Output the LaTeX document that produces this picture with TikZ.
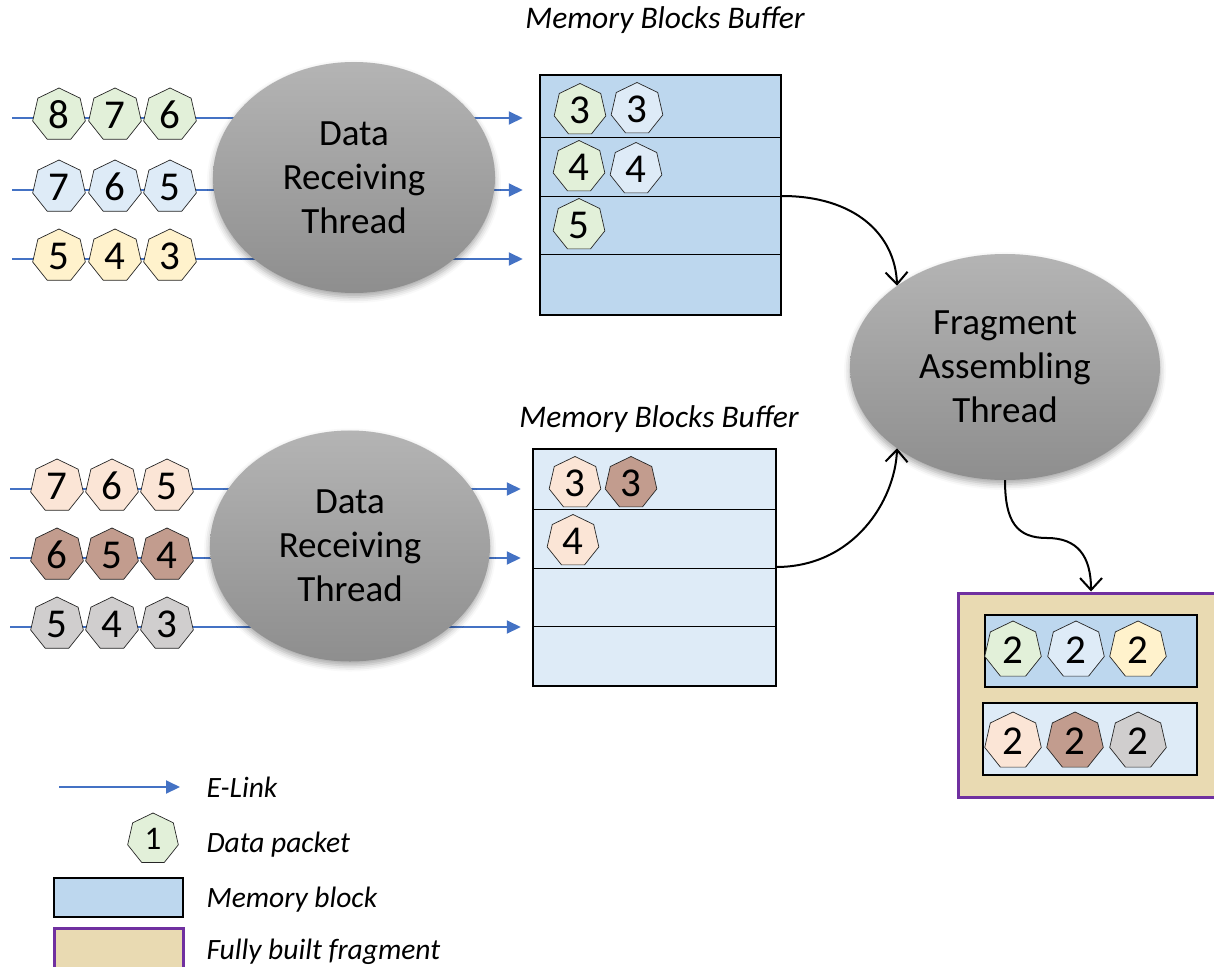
\documentclass[tikz,border=0pt]{standalone}
\usepackage{fontspec}
\setmainfont{Carlito}
\usetikzlibrary{shapes.geometric,arrows.meta,shadows.blur,calc}

\definecolor{linkblue}{HTML}{4472C4}
\definecolor{blockdark}{HTML}{BDD7EE}
\definecolor{blocklight}{HTML}{DEEBF7}
\definecolor{pgreen}{HTML}{E2F0D9}
\definecolor{pblue}{HTML}{DEEBF7}
\definecolor{pyellow}{HTML}{FFF2CC}
\definecolor{ppeach}{HTML}{FBE5D6}
\definecolor{pbrown}{HTML}{C29C8E}
\definecolor{pgray}{HTML}{D0CECE}
\definecolor{fragtan}{HTML}{E9DAB2}
\definecolor{fragpurple}{HTML}{7030A0}
\definecolor{threadtop}{RGB}{180,180,180}
\definecolor{threadbot}{RGB}{142,142,142}

\begin{document}
\begin{tikzpicture}[x=1pt,y=-1pt,
  pkt/.style={regular polygon, regular polygon sides=7, draw=black!85,
    line width=0.7pt, inner sep=0pt, minimum size=54pt, fill=#1,
    font=\fontsize{41}{43}\selectfont},
  bpkt/.style={pkt=#1, minimum size=53pt},
  fpkt/.style={pkt=#1, minimum size=58pt},
  elink/.style={linkblue, line width=2pt, -{Triangle[length=14pt,width=13pt]}},
  flow/.style={black, line width=2pt, -{Straight Barb[length=12pt,width=22pt,line width=2pt]}},
  thread/.style={ellipse, inner sep=0pt, top color=threadtop, bottom color=threadbot,
    align=center, font=\fontsize{37}{44}\selectfont,
    blur shadow={shadow xshift=0pt, shadow yshift=-4pt, shadow blur radius=6pt, shadow opacity=35}},
  buffer/.style={draw=black, line width=2.5pt, inner sep=0pt},
  rowline/.style={black, line width=0.9pt},
  title/.style={font=\fontsize{31.5}{33}\selectfont\itshape, anchor=base},
  legtext/.style={font=\fontsize{29.5}{32}\selectfont\itshape, anchor=base west}
]
\useasboundingbox (0,0) rectangle (1214,966);
\clip (0,0) rectangle (1214,966);

% ---------- memory block buffers ----------
\node[buffer, fill=blockdark, minimum width=241pt, minimum height=240pt] (bufA) at (660.5,195) {};
\draw[rowline] (540,137) -- (781,137);
\draw[rowline] (540,196) -- (781,196);
\draw[rowline] (540,254) -- (781,254);
\node[title] (titleA) at (665,29) {Memory Blocks Buffer};

\node[buffer, fill=blocklight, minimum width=243pt, minimum height=237pt] (bufB) at (654.5,567.5) {};
\draw[rowline] (533,509) -- (776,509);
\draw[rowline] (533,568) -- (776,568);
\draw[rowline] (533,626) -- (776,626);
\node[title] (titleB) at (659,427) {Memory Blocks Buffer};

% ---------- E-Link inputs ----------
\coordinate (inA1) at (12,118);
\coordinate (inA2) at (12,190);
\coordinate (inA3) at (12,259);
\coordinate (inB1) at (10,489);
\coordinate (inB2) at (10,558);
\coordinate (inB3) at (10,627);
\foreach \c in {inA1,inA2,inA3}
  \draw[elink, shorten >=16pt] (\c) -- (\c -| bufA.west);
\foreach \c in {inB1,inB2,inB3}
  \draw[elink, shorten >=11pt] (\c) -- (\c -| bufB.west);

% ---------- receiving threads ----------
\node[thread, minimum width=282pt, minimum height=231pt] (drtA) at (354,177.5) {Data\\Receiving\\Thread};
\node[thread, minimum width=280pt, minimum height=231pt] (drtB) at (350,546) {Data\\Receiving\\Thread};

% ---------- packets on the links ----------
\node[pkt=pgreen] (a18) at (59,115) {8};
\node[pkt=pgreen] (a17) at (115,115) {7};
\node[pkt=pgreen] (a16) at (170,115) {6};
\node[pkt=pblue] (a27) at (59,187) {7};
\node[pkt=pblue] (a26) at (115,187) {6};
\node[pkt=pblue] (a25) at (170,187) {5};
\node[pkt=pyellow] (a35) at (59,256) {5};
\node[pkt=pyellow] (a34) at (115,256) {4};
\node[pkt=pyellow] (a33) at (170,256) {3};

\node[pkt=ppeach] (b17) at (57,486) {7};
\node[pkt=ppeach] (b16) at (112,486) {6};
\node[pkt=ppeach] (b15) at (167,486) {5};
\node[pkt=pbrown] (b26) at (57,555) {6};
\node[pkt=pbrown] (b25) at (112,555) {5};
\node[pkt=pbrown] (b24) at (167,555) {4};
\node[pkt=pgray] (b35) at (57,624) {5};
\node[pkt=pgray] (b34) at (112,624) {4};
\node[pkt=pgray] (b33) at (167,624) {3};

% ---------- packets stored in the buffers ----------
\node[bpkt=pgreen] (sA13) at (580,110) {3};
\node[bpkt=pblue] (sA23) at (637,109) {3};
\node[bpkt=pgreen] (sA14) at (579,167) {4};
\node[bpkt=pblue] (sA24) at (636,169) {4};
\node[bpkt=pgreen] (sA15) at (579,225) {5};

\node[bpkt=ppeach] (sB13) at (575,483) {3};
\node[bpkt=pbrown] (sB23) at (631,483) {3};
\node[bpkt=ppeach] (sB14) at (573,541) {4};

% ---------- fragment assembling thread ----------
\node[thread, minimum width=310pt, minimum height=226pt] (fat) at (1005,367) {Fragment\\Assembling\\Thread};

% ---------- fully built fragment (runs off the right edge) ----------
\node[draw=fragpurple, line width=3pt, fill=fragtan, inner sep=0pt,
      minimum width=262pt, minimum height=204pt] (frag) at (1089,695) {};
\node[draw=black, line width=2pt, fill=blockdark, inner sep=0pt,
      minimum width=212pt, minimum height=72pt] (fragA) at (1091,651) {};
\node[draw=black, line width=2pt, fill=blocklight, inner sep=0pt,
      minimum width=214pt, minimum height=72pt] (fragB) at (1090,739) {};
\node[fpkt=pgreen] (f1) at (1013,650) {2};
\node[fpkt=pblue] (f2) at (1076,650) {2};
\node[fpkt=pyellow] (f3) at (1138,650) {2};
\node[fpkt=ppeach] (f4) at (1013,741) {2};
\node[fpkt=pbrown] (f5) at (1075,741) {2};
\node[fpkt=pgray] (f6) at (1138,741) {2};

% ---------- flows between threads ----------
\coordinate (outA) at (782,196);
\coordinate (outB) at (776,567);
\coordinate (bend) at (1047,538);
\coordinate (fragIn) at ($(frag.north)+(2,0)$);
\draw[flow] (outA) .. controls +(72,0) and +(-2,-52) .. (fat.143);
\draw[flow] (outB) .. controls +(78,0) and +(-2,52) .. (fat.217);
\draw[line width=2pt] (fat.south) .. controls +(0,42) and +(-30,0) .. (bend);
\draw[flow] (bend) .. controls +(30,0) and +(0,-36) .. (fragIn);

% ---------- legend ----------
\coordinate (legA) at (59,787);
\coordinate (legB) at (180,787);
\draw[elink] (legA) -- (legB);
\node[legtext] (legAt) at (203,797) {E-Link};
\node[pkt=pgreen, minimum size=52pt, font=\fontsize{33}{35}\selectfont] (legP) at (153,839) {1};
\node[legtext] (legPt) at (203,852) {Data packet};
\node[draw=black, line width=2pt, fill=blockdark, inner sep=0pt,
      minimum width=129pt, minimum height=39pt] (legM) at (118.5,897.5) {};
\node[legtext] (legMt) at (203,907) {Memory block};
\node[draw=fragpurple, line width=3pt, fill=fragtan, inner sep=0pt,
      minimum width=129pt, minimum height=50pt] (legF) at (118.5,953) {};
\node[legtext] (legFt) at (203,959) {Fully built fragment};
\end{tikzpicture}
\end{document}
